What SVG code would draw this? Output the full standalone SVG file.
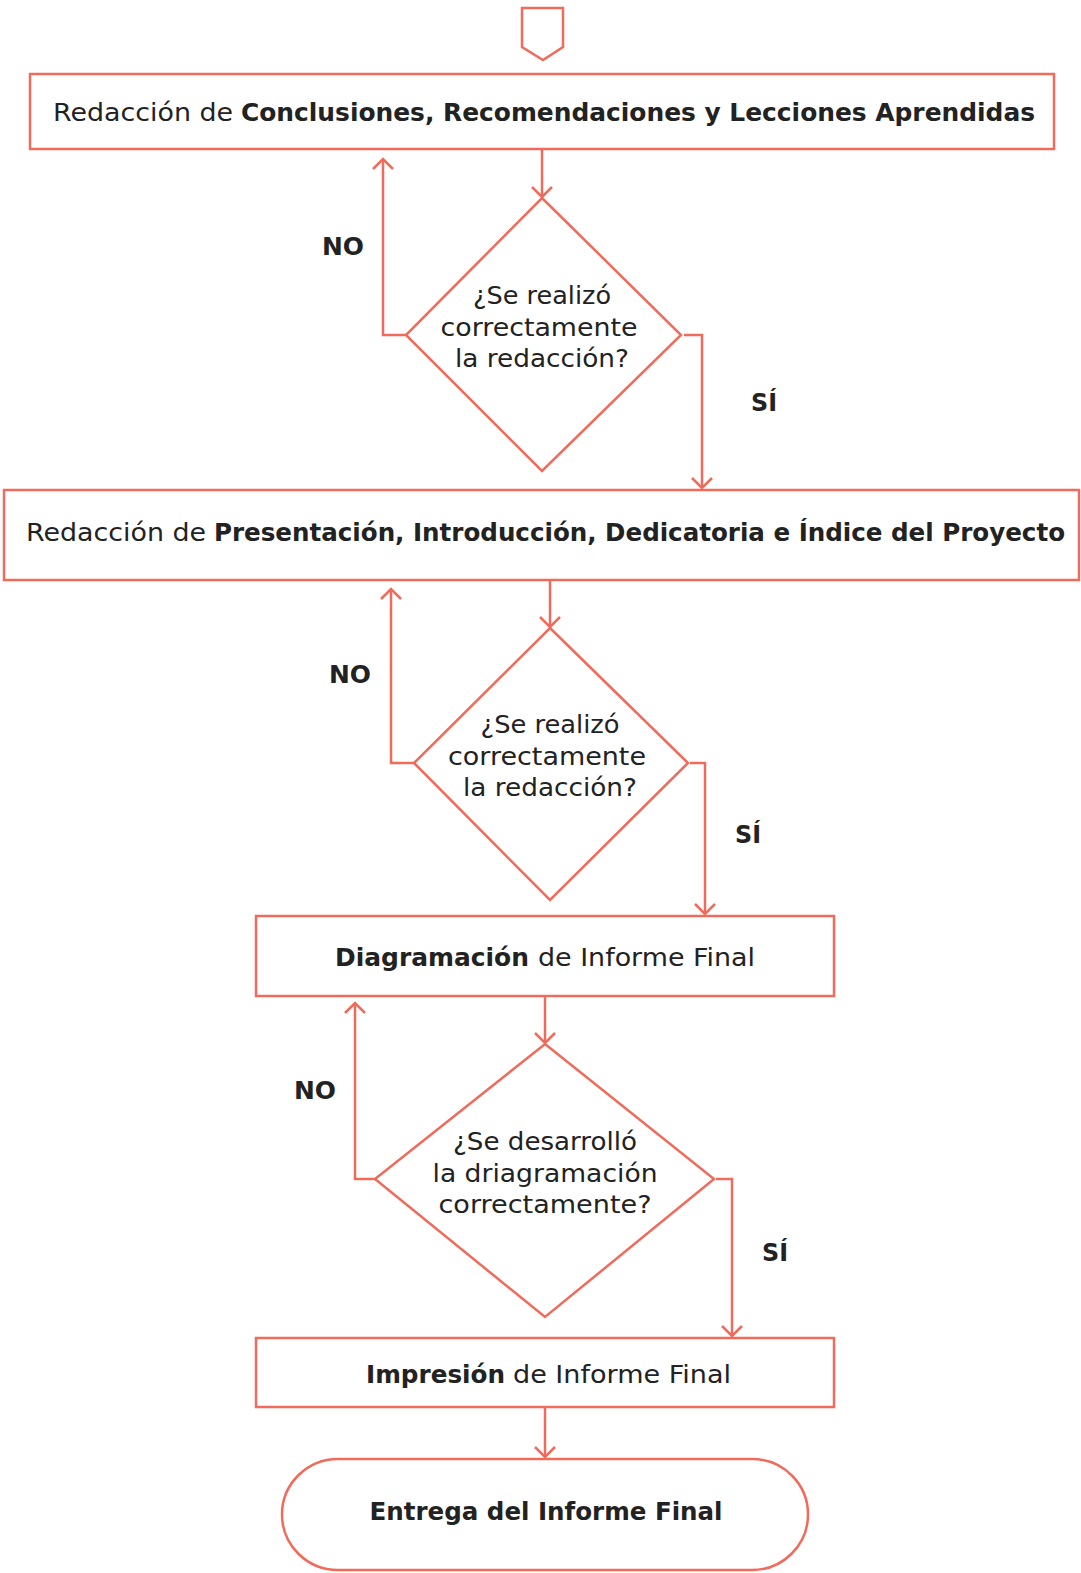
<svg xmlns="http://www.w3.org/2000/svg" width="1081" height="1573" viewBox="0 0 1081 1573">
<style>
.sh{fill:#fff;stroke:#F06B5B;stroke-width:2.5}
.ln{fill:none;stroke:#F06B5B;stroke-width:2.5}
text{font-family:"DejaVu Sans","Noto Sans",sans-serif;fill:#222;font-size:24px}
.b{font-weight:bold}
.c{text-anchor:middle}
</style>
<defs>
<marker id="arr" viewBox="0 0 24 24" markerWidth="24" markerHeight="24" refX="12" refY="12" orient="auto" markerUnits="userSpaceOnUse">
<path d="M2,2 L12,12 L2,22" fill="none" stroke="#F06B5B" stroke-width="2.5"/>
</marker>
</defs>
<g id="connectors">
<path class="ln" d="M542,149 V197" marker-end="url(#arr)"/>
<path class="ln" d="M406,335 H383 V159" marker-end="url(#arr)"/>
<path class="ln" d="M684,335 H702 V488" marker-end="url(#arr)"/>
<path class="ln" d="M550,580 V627" marker-end="url(#arr)"/>
<path class="ln" d="M414,763 H391 V589" marker-end="url(#arr)"/>
<path class="ln" d="M690,763 H705 V914" marker-end="url(#arr)"/>
<path class="ln" d="M545,996 V1043" marker-end="url(#arr)"/>
<path class="ln" d="M375,1179 H355 V1003" marker-end="url(#arr)"/>
<path class="ln" d="M716,1179 H732 V1336" marker-end="url(#arr)"/>
<path class="ln" d="M545,1407 V1457" marker-end="url(#arr)"/>
<text class="b c" x="343" y="255" textLength="42" lengthAdjust="spacingAndGlyphs">NO</text>
<text class="b c" x="764" y="411" textLength="26" lengthAdjust="spacingAndGlyphs">SÍ</text>
<text class="b c" x="350" y="683" textLength="42" lengthAdjust="spacingAndGlyphs">NO</text>
<text class="b c" x="748" y="843" textLength="26" lengthAdjust="spacingAndGlyphs">SÍ</text>
<text class="b c" x="315" y="1099" textLength="42" lengthAdjust="spacingAndGlyphs">NO</text>
<text class="b c" x="775" y="1261" textLength="26" lengthAdjust="spacingAndGlyphs">SÍ</text>
</g>
<g id="start">
<polygon class="sh" points="522,8 563,8 563,47 543,60 522,47"/>
</g>
<g id="box1">
<rect class="sh" x="30" y="74" width="1024" height="75"/>
<text x="53" y="121" textLength="180" lengthAdjust="spacingAndGlyphs">Redacción de</text>
<text class="b" x="241" y="121" textLength="794" lengthAdjust="spacingAndGlyphs">Conclusiones, Recomendaciones y Lecciones Aprendidas</text>
</g>
<g id="dec1">
<polygon class="sh" points="542,198 681,335 542,471 406,335"/>
<text class="c" x="542" y="304" textLength="138" lengthAdjust="spacingAndGlyphs">¿Se realizó</text>
<text class="c" x="539" y="336" textLength="197" lengthAdjust="spacingAndGlyphs">correctamente</text>
<text class="c" x="542" y="367" textLength="174" lengthAdjust="spacingAndGlyphs">la redacción?</text>
</g>
<g id="box2">
<rect class="sh" x="4" y="490" width="1075" height="90"/>
<text x="26" y="541" textLength="180" lengthAdjust="spacingAndGlyphs">Redacción de</text>
<text class="b" x="214" y="541" textLength="851" lengthAdjust="spacingAndGlyphs">Presentación, Introducción, Dedicatoria e Índice del Proyecto</text>
</g>
<g id="dec2">
<polygon class="sh" points="550,628 688,763 550,900 414,763"/>
<text class="c" x="550" y="733" textLength="139" lengthAdjust="spacingAndGlyphs">¿Se realizó</text>
<text class="c" x="547" y="765" textLength="198" lengthAdjust="spacingAndGlyphs">correctamente</text>
<text class="c" x="550" y="796" textLength="174" lengthAdjust="spacingAndGlyphs">la redacción?</text>
</g>
<g id="box3">
<rect class="sh" x="256" y="916" width="578" height="80"/>
<text class="b" x="335" y="966" textLength="194" lengthAdjust="spacingAndGlyphs">Diagramación</text>
<text x="538" y="966" textLength="217" lengthAdjust="spacingAndGlyphs">de Informe Final</text>
</g>
<g id="dec3">
<polygon class="sh" points="545,1044 714,1179 545,1317 375,1179"/>
<text class="c" x="545" y="1150" textLength="184" lengthAdjust="spacingAndGlyphs">¿Se desarrolló</text>
<text class="c" x="545" y="1182" textLength="225" lengthAdjust="spacingAndGlyphs">la driagramación</text>
<text class="c" x="545" y="1213" textLength="213" lengthAdjust="spacingAndGlyphs">correctamente?</text>
</g>
<g id="box4">
<rect class="sh" x="256" y="1338" width="578" height="69"/>
<text class="b" x="366" y="1383" textLength="139" lengthAdjust="spacingAndGlyphs">Impresión</text>
<text x="513" y="1383" textLength="218" lengthAdjust="spacingAndGlyphs">de Informe Final</text>
</g>
<g id="end">
<rect class="sh" x="282" y="1459" width="526" height="111" rx="56" ry="56"/>
<text class="b c" x="546" y="1520" textLength="353" lengthAdjust="spacingAndGlyphs">Entrega del Informe Final</text>
</g>
</svg>
